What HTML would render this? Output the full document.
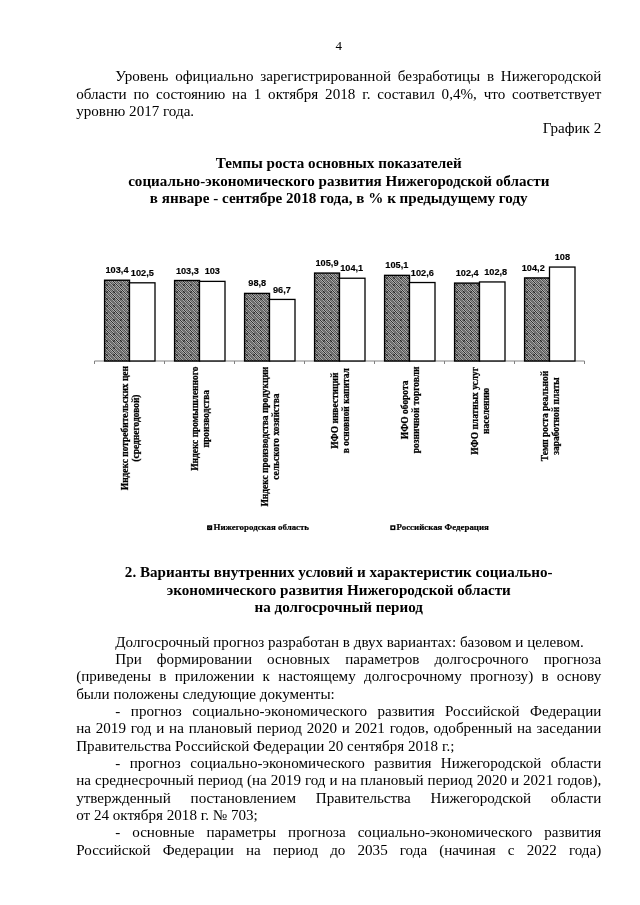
<!DOCTYPE html>
<html lang="ru"><head><meta charset="utf-8"><title>4</title>
<style>
html,body{margin:0;padding:0;background:#fff;}
body{width:640px;height:905px;position:relative;overflow:hidden;font-family:"Liberation Serif","Times New Roman",serif;color:#000;}
.l{position:absolute;font-size:15.1px;line-height:18px;height:18px;white-space:nowrap;}
.j{white-space:normal;text-align:justify;text-align-last:justify;}
.c{text-align:center;}
.r{text-align:right;}
.b{font-weight:bold;}
.ch{position:absolute;left:0;top:0;}
.dl{font:bold 9.2px "Liberation Sans",Arial,sans-serif;text-anchor:middle;fill:#000;stroke:#000;stroke-width:.15px;}
.cl{font:bold 9.45px "Liberation Serif","Times New Roman",serif;text-anchor:middle;fill:#000;stroke:#000;stroke-width:.25px;}
.lg{font:bold 8.9px "Liberation Serif","Times New Roman",serif;fill:#000;stroke:#000;stroke-width:.2px;}
</style></head><body>
<svg class="ch" width="640" height="905" viewBox="0 0 640 905">
<defs><pattern id="h" width="7" height="7" patternUnits="userSpaceOnUse">
<rect width="7" height="7" fill="#939393"/>
<path d="M-1,-1 L8,8 M-1,2.5 L4.5,8 M2.5,-1 L8,4.5 M-1,6 L1,8 M6,-1 L8,1" stroke="#3c3c3c" stroke-width=".9"/>
<rect x="1" y="4" width="2" height="2" fill="#000" opacity=".55"/>
</pattern>
<pattern id="k" width="2" height="2" patternUnits="userSpaceOnUse">
<rect width="1" height="1" fill="#000" opacity=".3"/><rect x="1" y="1" width="1" height="1" fill="#000" opacity=".3"/>
<rect x="1" width="1" height="1" fill="#fff" opacity=".25"/><rect y="1" width="1" height="1" fill="#fff" opacity=".25"/>
</pattern></defs>
<path d="M94.5,361.0 H584.5" stroke="#808080" stroke-width="1" fill="none"/>
<path d="M94.5,361.0 v3 M164.5,361.0 v3 M234.5,361.0 v3 M304.5,361.0 v3 M374.5,361.0 v3 M444.5,361.0 v3 M514.5,361.0 v3 M584.5,361.0 v3 " stroke="#808080" stroke-width="1" fill="none"/>
<rect x="104.60" y="280.23" width="24.90" height="80.77" fill="url(#h)"/>
<rect x="104.60" y="280.23" width="24.90" height="80.77" fill="url(#k)" stroke="#000" stroke-width="1.4"/>
<rect x="129.50" y="282.81" width="25.50" height="78.19" fill="#fff" stroke="#000" stroke-width="1.3"/>
<text class="dl" x="117.00" y="273.20">103,4</text>
<text class="dl" x="142.30" y="275.90">102,5</text>
<text class="cl" transform="translate(128.00,428.10) rotate(-90)">Индекс потребительских цен</text>
<text class="cl" transform="translate(139.00,428.10) rotate(-90)">(среднегодовой)</text>
<rect x="174.60" y="280.52" width="24.90" height="80.48" fill="url(#h)"/>
<rect x="174.60" y="280.52" width="24.90" height="80.48" fill="url(#k)" stroke="#000" stroke-width="1.4"/>
<rect x="199.50" y="281.38" width="25.50" height="79.62" fill="#fff" stroke="#000" stroke-width="1.3"/>
<text class="dl" x="187.40" y="273.50">103,3</text>
<text class="dl" x="212.30" y="274.20">103</text>
<text class="cl" transform="translate(198.00,418.70) rotate(-90)">Индекс промышленного</text>
<text class="cl" transform="translate(209.00,418.70) rotate(-90)">производства</text>
<rect x="244.60" y="293.41" width="24.90" height="67.59" fill="url(#h)"/>
<rect x="244.60" y="293.41" width="24.90" height="67.59" fill="url(#k)" stroke="#000" stroke-width="1.4"/>
<rect x="269.50" y="299.43" width="25.50" height="61.57" fill="#fff" stroke="#000" stroke-width="1.3"/>
<text class="dl" x="257.30" y="286.10">98,8</text>
<text class="dl" x="281.95" y="292.70">96,7</text>
<text class="cl" transform="translate(268.00,436.60) rotate(-90)">Индекс производства продукции</text>
<text class="cl" transform="translate(279.00,436.60) rotate(-90)">сельского хозяйства</text>
<rect x="314.60" y="273.07" width="24.90" height="87.93" fill="url(#h)"/>
<rect x="314.60" y="273.07" width="24.90" height="87.93" fill="url(#k)" stroke="#000" stroke-width="1.4"/>
<rect x="339.50" y="278.23" width="25.50" height="82.77" fill="#fff" stroke="#000" stroke-width="1.3"/>
<text class="dl" x="327.00" y="266.10">105,9</text>
<text class="dl" x="351.70" y="271.30">104,1</text>
<text class="cl" transform="translate(338.00,410.70) rotate(-90)">ИФО инвестиций</text>
<text class="cl" transform="translate(349.00,410.70) rotate(-90)">в основной капитал</text>
<rect x="384.60" y="275.36" width="24.90" height="85.64" fill="url(#h)"/>
<rect x="384.60" y="275.36" width="24.90" height="85.64" fill="url(#k)" stroke="#000" stroke-width="1.4"/>
<rect x="409.50" y="282.53" width="25.50" height="78.47" fill="#fff" stroke="#000" stroke-width="1.3"/>
<text class="dl" x="396.80" y="268.45">105,1</text>
<text class="dl" x="422.30" y="275.80">102,6</text>
<text class="cl" transform="translate(408.00,409.90) rotate(-90)">ИФО оборота</text>
<text class="cl" transform="translate(419.00,409.90) rotate(-90)">розничной торговли</text>
<rect x="454.60" y="283.10" width="24.90" height="77.90" fill="url(#h)"/>
<rect x="454.60" y="283.10" width="24.90" height="77.90" fill="url(#k)" stroke="#000" stroke-width="1.4"/>
<rect x="479.50" y="281.95" width="25.50" height="79.05" fill="#fff" stroke="#000" stroke-width="1.3"/>
<text class="dl" x="467.20" y="275.86">102,4</text>
<text class="dl" x="495.70" y="274.70">102,8</text>
<text class="cl" transform="translate(478.00,410.90) rotate(-90)">ИФО платных услуг</text>
<text class="cl" transform="translate(489.00,410.90) rotate(-90)">населению</text>
<rect x="524.60" y="277.94" width="24.90" height="83.06" fill="url(#h)"/>
<rect x="524.60" y="277.94" width="24.90" height="83.06" fill="url(#k)" stroke="#000" stroke-width="1.4"/>
<rect x="549.50" y="267.06" width="25.50" height="93.95" fill="#fff" stroke="#000" stroke-width="1.3"/>
<text class="dl" x="533.25" y="271.40">104,2</text>
<text class="dl" x="562.40" y="260.10">108</text>
<text class="cl" transform="translate(548.00,416.00) rotate(-90)">Темп роста реальной</text>
<text class="cl" transform="translate(559.00,416.00) rotate(-90)">заработной платы</text>
<rect x="207.8" y="526" width="3.7" height="3.4" fill="#999" stroke="#000" stroke-width="1.4"/><path d="M208.5,526.7 l2.3,2" stroke="#000" stroke-width=".8"/>
<text class="lg" x="213.5" y="530.4">Нижегородская область</text>
<rect x="391" y="526" width="3.7" height="3.4" fill="#fff" stroke="#000" stroke-width="1.4"/>
<text class="lg" x="396.5" y="530.4">Российская Федерация</text>
</svg>
<div class="l c" style="top:36.50px;left:76.20px;width:525.10px;font-size:13px;">4</div>
<div class="l j" style="top:67.00px;left:115.30px;width:486.00px;">Уровень официально зарегистрированной безработицы в Нижегородской</div>
<div class="l j" style="top:85.00px;left:76.20px;width:525.10px;">области по состоянию на 1 октября 2018 г. составил 0,4%, что соответствует</div>
<div class="l" style="top:102.00px;left:76.20px;width:525.10px;">уровню 2017 года.</div>
<div class="l r" style="top:119.00px;left:76.20px;width:525.10px;">График 2</div>
<div class="l c b" style="top:154.00px;left:76.20px;width:525.10px;">Темпы роста основных показателей</div>
<div class="l c b" style="top:172.00px;left:76.20px;width:525.10px;">социально-экономического развития Нижегородской области</div>
<div class="l c b" style="top:189.00px;left:76.20px;width:525.10px;">в январе - сентябре 2018 года, в % к предыдущему году</div>
<div class="l c b" style="top:563.00px;left:76.20px;width:525.10px;">2. Варианты внутренних условий и характеристик социально-</div>
<div class="l c b" style="top:581.00px;left:76.20px;width:525.10px;">экономического развития Нижегородской области</div>
<div class="l c b" style="top:598.00px;left:76.20px;width:525.10px;">на долгосрочный период</div>
<div class="l" style="top:633.00px;left:115.30px;width:486.00px;">Долгосрочный прогноз разработан в двух вариантах: базовом и целевом.</div>
<div class="l j" style="top:650.00px;left:115.30px;width:486.00px;">При формировании основных параметров долгосрочного прогноза</div>
<div class="l j" style="top:667.00px;left:76.20px;width:525.10px;">(приведены в приложении к настоящему долгосрочному прогнозу) в основу</div>
<div class="l" style="top:685.00px;left:76.20px;width:525.10px;">были положены следующие документы:</div>
<div class="l j" style="top:702.00px;left:115.30px;width:486.00px;">- прогноз социально-экономического развития Российской Федерации</div>
<div class="l j" style="top:719.00px;left:76.20px;width:525.10px;">на 2019 год и на плановый период 2020 и 2021 годов, одобренный на заседании</div>
<div class="l" style="top:737.00px;left:76.20px;width:525.10px;">Правительства Российской Федерации 20 сентября 2018 г.;</div>
<div class="l j" style="top:754.00px;left:115.30px;width:486.00px;">- прогноз социально-экономического развития Нижегородской области</div>
<div class="l j" style="top:771.00px;left:76.20px;width:525.10px;">на среднесрочный период (на 2019 год и на плановый период 2020 и 2021 годов),</div>
<div class="l j" style="top:789.00px;left:76.20px;width:525.10px;">утвержденный постановлением Правительства Нижегородской области</div>
<div class="l" style="top:806.00px;left:76.20px;width:525.10px;">от 24 октября 2018 г. № 703;</div>
<div class="l j" style="top:823.00px;left:115.30px;width:486.00px;">- основные параметры прогноза социально-экономического развития</div>
<div class="l j" style="top:841.00px;left:76.20px;width:525.10px;">Российской Федерации на период до 2035 года (начиная с 2022 года)</div>
</body></html>
